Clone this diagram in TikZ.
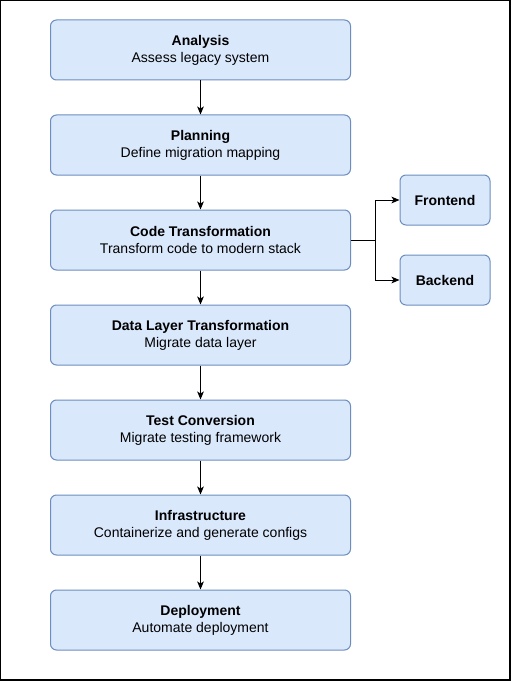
\documentclass[tikz,border=0pt]{standalone}
\usepackage{fontspec}
\setmainfont{Liberation Sans}
\usetikzlibrary{arrows.meta,positioning}
\definecolor{boxfill}{HTML}{DAE8FC}
\definecolor{boxline}{HTML}{6C8EBF}

\begin{document}
\begin{tikzpicture}[
    x=0.75pt, y=-0.75pt,
    arr/.style={-{Stealth[length=6pt,width=5pt,inset=1.5pt]}, line width=0.75pt},
    card/.style={draw=boxline, fill=boxfill, line width=0.75pt, rounded corners=4.5pt,
      inner sep=0pt, align=center, font=\fontsize{10.5}{12.75}\selectfont},
    stage/.style={card, minimum width=225pt, minimum height=45pt,
      execute at begin node={\rule{0pt}{9.8pt}}},
    side/.style={card, minimum width=67.5pt, minimum height=37.5pt,
      font=\fontsize{10.5}{12.75}\selectfont\bfseries},
  ]

  % Frame
  \useasboundingbox (0,0) rectangle (511,681);
  \draw[line width=0.9pt] (0.6,0.6) rectangle (509.9,679.9);

  % Main column
  \node[stage] (analysis) at (200.5,50) {\textbf{Analysis}\\Assess legacy system};
  \node[stage] (planning) at (200.5,145) {\textbf{Planning}\\Define migration mapping};
  \node[stage] (code) at (200.5,240) {\textbf{Code Transformation}\\Transform code to modern stack};
  \node[stage] (data) at (200.5,335) {\textbf{Data Layer Transformation}\\Migrate data layer};
  \node[stage] (test) at (200.5,430) {\textbf{Test Conversion}\\Migrate testing framework};
  \node[stage] (infra) at (200.5,525) {\textbf{Infrastructure}\\Containerize and generate configs};
  \node[stage] (deploy) at (200.5,620) {\textbf{Deployment}\\Automate deployment};

  % Side branch
  \node[side] (front) at (445,200) {Frontend};
  \node[side] (back) at (445,280) {Backend};

  % Flow
  \draw[arr] (analysis) -- (planning);
  \draw[arr] (planning) -- (code);
  \draw[arr] (code) -- (data);
  \draw[arr] (data) -- (test);
  \draw[arr] (test) -- (infra);
  \draw[arr] (infra) -- (deploy);

  \coordinate (fork) at (375,240);
  \draw[line width=0.75pt] (code.east) -- (fork);
  \draw[arr] (fork) |- (front);
  \draw[arr] (fork) |- (back);

\end{tikzpicture}
\end{document}
